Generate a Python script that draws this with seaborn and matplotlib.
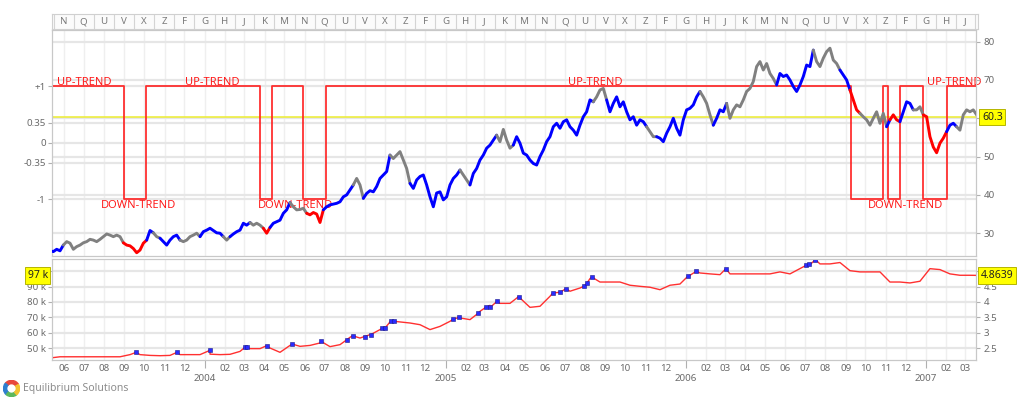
import numpy as np
import pandas as pd
import matplotlib
matplotlib.use("Agg")
import matplotlib.pyplot as plt
import matplotlib.dates as mdates
import seaborn as sns
from matplotlib.patches import Wedge
from matplotlib.transforms import blended_transform_factory as blend

sns.set_theme(style="white")
plt.rcParams['font.family'] = ['Noto Sans', 'DejaVu Sans']

# ---------------- data ----------------
price_start, price_end = "2003-05-11", "2007-03-24"
price_values = [
    25.4, 25.2, 25.8, 25.4, 26.9, 27.8, 27.4, 25.8, 26.5, 26.9,
    27.5, 27.8, 28.4, 28.2, 27.8, 28.4, 29.1, 29.8, 29.5, 29.1,
    29.5, 29.1, 27.5, 26.9, 26.7, 26.0, 24.9, 25.6, 27.4, 28.2,
    30.7, 30.1, 29.1, 28.7, 27.8, 26.9, 28.2, 29.1, 29.5, 28.2,
    27.8, 28.2, 29.1, 29.5, 30.0, 29.1, 30.4, 30.8, 31.3, 30.7,
    30.1, 30.0, 29.1, 28.2, 29.1, 29.8, 30.4, 30.8, 32.6, 32.1,
    32.8, 32.1, 32.6, 32.1, 31.3, 30.0, 31.5, 32.6, 33.0, 33.4,
    35.2, 36.1, 38.0, 36.9, 36.1, 36.2, 36.5, 35.2, 34.8, 35.4,
    35.0, 32.8, 36.1, 36.9, 37.4, 37.6, 37.8, 38.2, 39.5, 40.0,
    41.3, 42.6, 44.3, 42.6, 39.1, 40.4, 41.1, 40.8, 42.2, 44.3,
    45.2, 46.1, 50.4, 49.5, 50.4, 51.3, 49.1, 46.9, 43.0, 41.7,
    43.9, 44.8, 45.2, 42.6, 39.5, 36.9, 40.5, 40.8, 38.7, 39.5,
    42.6, 44.3, 45.2, 46.5, 45.2, 43.9, 42.6, 45.6, 46.9, 49.1,
    50.4, 52.2, 53.0, 54.3, 55.6, 53.9, 57.1, 54.3,
    52.2, 53.0, 55.2, 53.5, 50.9, 50.4, 49.1, 48.2, 47.8, 50.0,
    51.7, 53.9, 55.2, 57.8, 58.7, 57.4, 59.1, 59.6, 57.8, 56.9,
    55.6, 58.2, 60.4, 61.7, 64.8, 64.3, 65.6, 67.4, 67.8, 64.8,
    61.7, 63.9, 65.6, 63.0, 64.3, 61.7, 59.6, 60.4, 58.2, 59.6,
    59.1, 57.8, 56.5, 55.2, 55.2, 54.8, 53.9, 56.1, 57.8, 60.0,
    57.4, 55.6, 59.6, 62.2, 62.6, 63.5, 65.6, 67.0, 65.6, 63.9,
    60.9, 58.2, 60.0, 62.2, 61.7, 63.9, 60.0, 62.2, 63.5, 63.0,
    64.8, 67.0, 67.8, 69.6, 73.5, 74.8, 72.6, 74.3, 71.7, 70.4,
    68.7, 71.7, 70.9, 71.3, 70.0, 68.3, 67.0, 68.7, 70.9, 73.9,
    73.5, 77.8, 74.8, 73.5, 75.7, 77.4, 78.3, 75.2, 74.3, 72.6,
    71.3, 70.0, 67.4, 64.8, 62.2, 61.3, 60.4, 59.6, 58.2, 60.0,
    61.7, 58.7, 61.3, 57.8, 59.6, 60.9, 59.6, 59.1, 61.7, 64.3,
    63.9, 62.2, 62.2, 63.0, 60.9, 60.4, 55.2, 52.5, 51.0, 53.5,
    54.8, 56.5, 58.2, 58.7, 57.8, 56.9, 60.9, 62.2, 61.7, 62.2,
    60.9, 60.3,
]
# index where each colour segment starts, and its colour (b=blue, g=grey, r=red)
color_breaks = [0, 4, 22, 29, 31, 33, 39, 45, 52, 54, 60, 64, 66, 72, 77, 82, 91, 94,
                102, 108, 123, 126, 134, 139, 163, 167, 179, 182, 195, 199, 203, 218,
                229, 237, 240, 243, 251, 252, 255, 259, 262, 269, 272]
color_codes = "bgrbgbgbgbgrbgrbgbgbgbgbgbgbgbgbgbrgbrbgrbg"

trend_dates = ["2003-05-11", "2003-08-31", "2003-10-04", "2004-03-25", "2004-04-13",
               "2004-05-30", "2004-07-03", "2006-09-09", "2006-10-28", "2006-11-05",
               "2006-11-23", "2006-12-28", "2007-02-02", "2007-03-24"]
trend_values = [1, -1, 1, -1, 1, -1, 1, -1, 1, -1, 1, -1, 1, 1]
trend_labels = [("UP-TREND", 0.0054, 1), ("DOWN-TREND", 0.053, -1), ("UP-TREND", 0.144, 1),
                ("DOWN-TREND", 0.223, -1), ("UP-TREND", 0.558, 1), ("DOWN-TREND", 0.883, -1),
                ("UP-TREND", 0.947, 1)]

equity_start, equity_end = "2003-05-11", "2007-03-24"
equity_k = [
    43.5, 44.3, 44.3, 44.3, 44.3, 44.3, 44.3, 44.3, 45.7, 45.7,
    45.2, 45.0, 45.2, 45.7, 45.7, 45.7, 46.0, 45.7, 45.9, 47.8,
    49.6, 49.6, 50.0, 47.2, 51.7, 51.1, 51.7, 53.3, 50.9, 52.2,
    57.0, 56.5, 58.7, 62.0, 67.0, 67.0, 66.3, 65.2, 62.0, 64.1,
    67.4, 69.6, 68.5, 73.9, 77.8, 79.1, 79.1, 82.6, 76.5, 77.2,
    83.7, 86.3, 87.0, 89.1, 95.2, 93.0, 93.0, 93.0, 90.9, 90.2,
    89.6, 88.0, 90.9, 91.7, 97.4, 98.9, 98.3, 97.8, 98.3, 98.3,
    98.3, 98.3, 98.3, 99.6, 98.3, 101.7, 104.3, 104.8, 104.8, 105.7,
    100.4, 99.6, 99.6, 99.6, 93.0, 93.0, 92.4, 93.5, 101.7, 101.1,
    98.3, 97.4, 97.4, 97.3,
]
marker_dates = ["2003-09-19", "2003-11-20", "2004-01-09", "2004-03-02", "2004-03-06",
                "2004-04-04", "2004-05-13", "2004-06-26", "2004-08-04", "2004-08-13",
                "2004-08-31", "2004-09-09", "2004-09-27", "2004-10-01", "2004-10-10",
                "2004-10-15", "2005-01-13", "2005-01-22", "2005-02-20", "2005-03-03",
                "2005-03-10", "2005-03-20", "2005-04-22", "2005-06-13", "2005-06-24",
                "2005-07-03", "2005-07-31", "2005-08-04", "2005-08-11", "2006-01-04",
                "2006-01-17", "2006-03-03", "2006-07-03", "2006-07-08", "2006-07-17"]
marker_k = [47.2, 47.2, 48.5, 50.4, 50.4, 51.5, 52.6, 54.3, 55.4, 58.0,
            57.5, 58.7, 63.0, 63.0, 67.4, 67.4, 68.9, 70.0, 72.8, 76.5,
            76.5, 80.4, 83.5, 85.9, 86.3, 88.7, 90.4, 92.4, 96.3, 96.7,
            100.0, 101.7, 103.9, 104.8, 107.6]

month_codes = ["F", "G", "H", "J", "K", "M", "N", "Q", "U", "V", "X", "Z"]
osc_ticks = [1, 0.35, 0, -0.35, -1]
osc_labels = ["+1", "0.35", "0", "-0.35", "-1"]
price_ticks = [30, 40, 50, 60, 70, 80]
equity_ticks_k = [50, 60, 70, 80, 90, 100]
last_price = 60.3
last_equity_k = 97
last_equity_ratio = 4.8639
ratio_divisor = 20.0

# ---------------- layout ----------------
W, H = 1024, 397
def rect(x0, y0, x1, y1):
    return [x0 / W, (H - y1) / H, (x1 - x0) / W, (y1 - y0) / H]

x_lo, x_hi = pd.Timestamp("2003-05-14"), pd.Timestamp("2007-03-18")
TICK_C, LAB_C, GRID_C, SPINE_C = "#b0b0b0", "#6a6a6a", "#e6e6e6", "#c8c8c8"
FS = 7

def near(a, b, tol):
    return abs(a - b) < tol

fig = plt.figure(figsize=(W / 100, H / 100), dpi=100)
fig.patch.set_facecolor("white")
axo = fig.add_axes(rect(52, 30, 976, 256))
axp = axo.twinx()
axe = fig.add_axes(rect(52, 259, 976, 360))
axe2 = axe.twinx()
axs = fig.add_axes(rect(52, 14, 978, 29))

# ---------------- top panel ----------------
tdf = pd.DataFrame({"date": pd.to_datetime(trend_dates), "trend": trend_values})
sns.lineplot(data=tdf, x="date", y="trend", drawstyle="steps-post", color="#ff1a1a",
             linewidth=1.3, alpha=0.9, estimator=None, ax=axo, zorder=3)

pdates = pd.date_range(price_start, price_end, periods=len(price_values))
cmap = {"b": "#0000ff", "g": "#808080", "r": "#ff0000"}
bounds = color_breaks + [len(price_values) - 1]
rows = []
for k in range(len(color_breaks)):
    for i in range(bounds[k], bounds[k + 1] + 1):
        rows.append((pdates[i], price_values[i], k))
pdf = pd.DataFrame(rows, columns=["date", "price", "seg"])
pal = {k: cmap[color_codes[k]] for k in range(len(color_breaks))}
sns.lineplot(data=pdf, x="date", y="price", hue="seg", palette=pal, legend=False,
             estimator=None, sort=False, linewidth=2.1, ax=axp, zorder=4)

axo.set_xlim(x_lo, x_hi)
axo.set_ylim(-2.0, 1.99)
axp.set_ylim(24.05, 83.05)

months = pd.date_range("2003-06-01", "2007-03-01", freq="MS")
for m in months:
    axo.axvline(m, color="#efefef", lw=1, zorder=0)
    axe.axvline(m, color="#efefef", lw=1, zorder=0)

for t in osc_ticks:
    axo.axhline(t, color=GRID_C, lw=1.6, zorder=0.5)
tr_p = blend(axo.transAxes, axp.transData)
for p in price_ticks:
    axo.plot([0, 1], [p, p], transform=tr_p, color=GRID_C, lw=1.6, zorder=0.5)
axo.plot([0, 1], [last_price, last_price], transform=tr_p, color="#eded30", lw=1.1, zorder=1)

axo.set_yticks(osc_ticks)
axo.set_yticklabels(osc_labels)
axo.tick_params(axis="y", which="both", left=True, right=False, length=3, width=0.8,
                color=TICK_C, labelcolor=LAB_C, labelsize=FS, pad=1.5)
axo.tick_params(axis="x", bottom=False, labelbottom=False)
axp.set_yticks(price_ticks)
# the tick hidden behind the "last price" box keeps its mark but not its label
axp.set_yticklabels(["" if near(p, last_price, 3) else f"{p}" for p in price_ticks])
axp.tick_params(axis="y", right=True, left=False, length=3, width=0.8, color=TICK_C,
                labelcolor=LAB_C, labelsize=FS, pad=2.5)
for a in (axo, axp):
    a.set_xlabel("")
    a.set_ylabel("")
    for s in a.spines.values():
        s.set_color(SPINE_C)
        s.set_linewidth(0.8)

trl = blend(axo.transAxes, axo.transData)
for txt, xf, lvl in trend_labels:
    axo.text(xf, lvl + (0.015 if lvl > 0 else -0.02), txt, transform=trl, color="#ff1a1a",
             fontsize=8, ha="left", va="baseline" if lvl > 0 else "top",
             clip_on=False, zorder=6)

box = dict(boxstyle="square,pad=0.25", fc="#ffff00", ec="#b5b500", lw=0.7)
axp.text(1.0065, last_price, f"{last_price}", transform=blend(axp.transAxes, axp.transData),
         ha="left", va="center", fontsize=7.5, color="#222", bbox=box, zorder=10, clip_on=False)

# ---------------- bottom panel ----------------
edates = pd.date_range(equity_start, equity_end, periods=len(equity_k))
edf = pd.DataFrame({"date": list(edates) + list(pd.to_datetime(marker_dates)),
                    "k": equity_k + marker_k}).sort_values("date")
sns.lineplot(data=edf, x="date", y="k", color="#ff3030", linewidth=1.0,
             estimator=None, ax=axe, zorder=3)
mdf = pd.DataFrame({"date": pd.to_datetime(marker_dates), "k": marker_k})
sns.scatterplot(data=mdf, x="date", y="k", marker="s", s=9, color="#2a2aff",
                edgecolor="#1a1a8a", linewidth=0.4, ax=axe, zorder=4)

axe.set_xlim(x_lo, x_hi)
axe.set_ylim(42.2, 108.0)
axe2.set_ylim(42.2 / ratio_divisor, 108.0 / ratio_divisor)
for v in equity_ticks_k:
    axe.axhline(v, color=GRID_C, lw=1.6, zorder=0.5)
axe.set_yticks(equity_ticks_k)
axe.set_yticklabels(["" if near(v, last_equity_k, 5) else f"{v} k" for v in equity_ticks_k])
axe.tick_params(axis="y", left=True, right=False, length=3, width=0.8, color=TICK_C,
                labelcolor=LAB_C, labelsize=FS, pad=1.5)
r_ticks = [v / ratio_divisor for v in equity_ticks_k]
axe2.set_yticks(r_ticks)
axe2.set_yticklabels(["" if near(v, last_equity_ratio, 0.25) else f"{v:g}" for v in r_ticks])
axe2.tick_params(axis="y", right=True, left=False, length=3, width=0.8, color=TICK_C,
                 labelcolor=LAB_C, labelsize=FS, pad=2.5)

month_ticks = [m for m in months if m.month != 1]
years = [m for m in months if m.month == 1]
axe.set_xticks(month_ticks)
axe.set_xticklabels([f"{m.month:02d}" for m in month_ticks])
axe.set_xticks(years, minor=True)
axe.set_xticklabels([str(y.year) for y in years], minor=True)
axe.tick_params(axis="x", which="major", bottom=True, length=0, pad=3,
                labelsize=FS, labelcolor=LAB_C)
axe.tick_params(axis="x", which="minor", bottom=True, length=6, width=0.8, color=TICK_C,
                pad=4.0, labelsize=FS, labelcolor=LAB_C)
for a in (axe, axe2):
    a.set_xlabel("")
    a.set_ylabel("")
    for s in a.spines.values():
        s.set_color(SPINE_C)
        s.set_linewidth(0.8)

axe.text(-0.0045, last_equity_k + 0.3, f"{last_equity_k} k", transform=blend(axe.transAxes, axe.transData),
         ha="right", va="center", fontsize=7.5, color="#222", bbox=box, zorder=10, clip_on=False)
axe2.text(1.0055, last_equity_ratio, f"{last_equity_ratio}", transform=blend(axe2.transAxes, axe2.transData),
          ha="left", va="center", fontsize=7.5, color="#222", bbox=box, zorder=10, clip_on=False)

# ---------------- contract-letter strip ----------------
axs.set_xlim(x_lo, pd.Timestamp("2007-03-21"))
axs.set_ylim(0, 1)
axs.set_facecolor("#fbfbfb")
strip_months = pd.date_range("2003-05-01", "2007-05-01", freq="MS")
for m0, m1 in zip(strip_months[:-1], strip_months[1:]):
    axs.axvline(m0 + (m1 - m0) / 2, color="#d4d4d4", lw=0.8)
for m in strip_months:
    axs.text(m, 0.5, month_codes[m.month % 12], ha="center", va="center",
             fontsize=7, color="#7a7a7a", clip_on=True)
axs.set_xticks([])
axs.set_yticks([])
for s in axs.spines.values():
    s.set_color("#d0d0d0")
    s.set_linewidth(0.8)

# ---------------- logo ----------------
axl = fig.add_axes(rect(3, 380, 20, 397))
axl.set_xlim(-1, 1)
axl.set_ylim(-1, 1)
axl.set_aspect("equal")
axl.axis("off")
for (a0, a1, c) in [(30, 140, "#e8473c"), (140, 230, "#2f7fd0"), (230, 310, "#5cb85c"), (310, 390, "#f2c230")]:
    axl.add_patch(Wedge((0, 0), 0.95, a0, a1, width=0.38, color=c))
fig.text(23 / W, (H - 389) / H, "Equilibrium Solutions", fontsize=7.5, color="#8c8c8c",
         ha="left", va="center")

fig.savefig("out.png", dpi=100)
